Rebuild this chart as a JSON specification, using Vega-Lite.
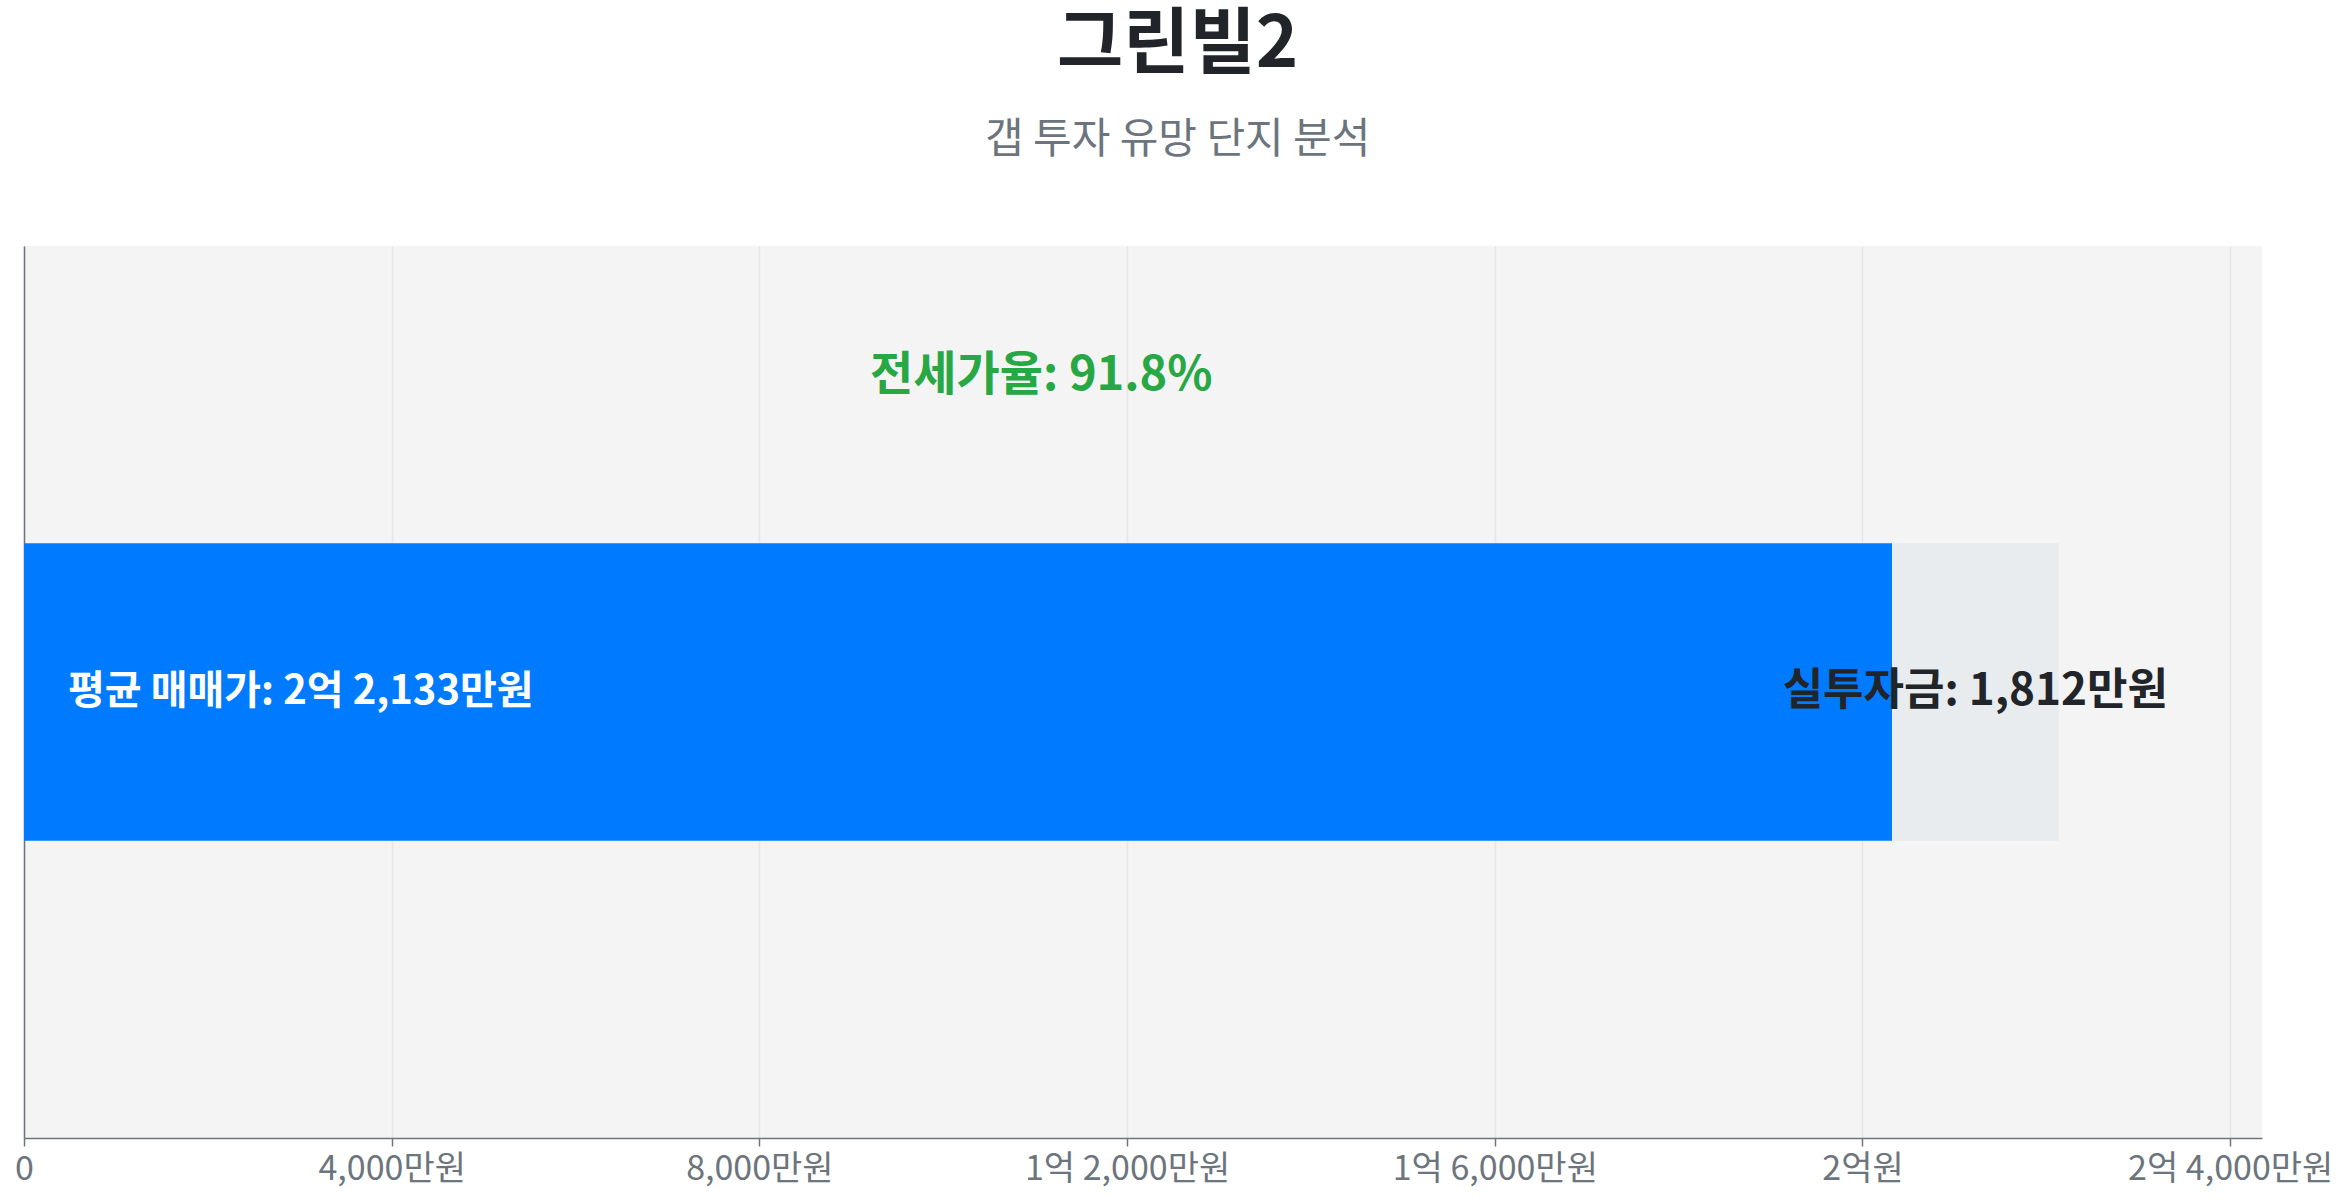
{
  "$schema": "https://vega.github.io/schema/vega-lite/v6.json",
  "title": {
    "text": "그린빌2",
    "subtitle": "갭 투자 유망 단지 분석",
    "anchor": "middle",
    "frame": "bounds",
    "dx": 4,
    "fontSize": 72,
    "fontWeight": "bold",
    "color": "#212529",
    "subtitleFontSize": 42,
    "subtitleColor": "#6c757d",
    "subtitleFontWeight": "normal",
    "subtitlePadding": 38,
    "offset": 84
  },
  "width": 2238,
  "height": 892,
  "padding": {"left": 14, "top": 9, "right": 16, "bottom": 4},
  "background": "white",
  "config": {
    "font": "Noto Sans CJK KR",
    "view": {"fill": "#f4f4f4", "stroke": null}
  },
  "data": {
    "values": [
      {"단지": "그린빌2", "매매가": 22133, "전세가": 20321, "실투자금": 1812, "전세가율": 91.8}
    ]
  },
  "encoding": {
    "y": {
      "field": "단지",
      "type": "nominal",
      "scale": {"paddingInner": 0, "paddingOuter": 1},
      "axis": {
        "title": null,
        "labels": false,
        "ticks": false,
        "grid": false,
        "domainColor": "#6c757d",
        "domainWidth": 1.5
      }
    }
  },
  "layer": [
    {
      "mark": {"type": "bar", "color": "#007bff"},
      "encoding": {
        "x": {
          "field": "전세가",
          "type": "quantitative",
          "scale": {"domain": [0, 24346], "nice": false},
          "axis": {
            "title": null,
            "values": [0, 4000, 8000, 12000, 16000, 20000, 24000],
            "labelExpr": "datum.value == 0 ? '0' : (datum.value >= 10000 ? floor(datum.value / 10000) + '억' + (datum.value % 10000 > 0 ? ' ' + format(datum.value % 10000, ',') + '만원' : '원') : format(datum.value, ',') + '만원')",
            "labelFontSize": 34,
            "labelColor": "#6c757d",
            "labelPadding": 6,
            "labelLimit": 0,
            "labelFlush": false,
            "labelOverlap": false,
            "tickColor": "#6c757d",
            "tickSize": 8,
            "tickWidth": 1.5,
            "domainColor": "#6c757d",
            "domainWidth": 1.5,
            "gridColor": "#e6e6e6",
            "gridWidth": 1.5
          }
        }
      }
    },
    {
      "mark": {"type": "bar", "color": "#e9ecef"},
      "encoding": {
        "x": {"field": "전세가", "type": "quantitative"},
        "x2": {"field": "매매가"}
      }
    },
    {
      "transform": [
        {"calculate": "'평균 매매가: ' + floor(datum['매매가'] / 10000) + '억 ' + format(datum['매매가'] % 10000, ',') + '만원'", "as": "label"}
      ],
      "mark": {"type": "text", "align": "left", "dx": 44, "fontSize": 40, "fontWeight": "bold", "color": "white"},
      "encoding": {
        "x": {"datum": 0, "type": "quantitative"},
        "text": {"field": "label"}
      }
    },
    {
      "transform": [
        {"calculate": "(datum['전세가'] + datum['매매가']) / 2", "as": "mid"},
        {"calculate": "'실투자금: ' + format(datum['실투자금'], ',') + '만원'", "as": "label"}
      ],
      "mark": {"type": "text", "align": "center", "fontSize": 44, "fontWeight": "bold", "color": "#212529"},
      "encoding": {
        "x": {"field": "mid", "type": "quantitative"},
        "text": {"field": "label"}
      }
    },
    {
      "transform": [
        {"calculate": "datum['매매가'] / 2", "as": "mid"},
        {"calculate": "'전세가율: ' + format(datum['전세가율'], '.1f') + '%'", "as": "label"}
      ],
      "mark": {"type": "text", "align": "center", "dy": -316, "fontSize": 47, "fontWeight": "bold", "color": "#28a745"},
      "encoding": {
        "x": {"field": "mid", "type": "quantitative"},
        "text": {"field": "label"}
      }
    }
  ]
}
